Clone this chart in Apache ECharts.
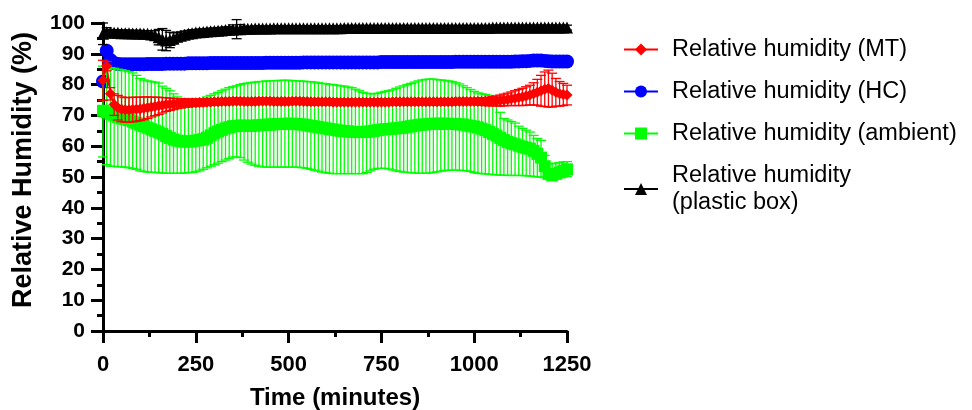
<!DOCTYPE html>
<html>
<head>
<meta charset="utf-8">
<script src="https://cdn.jsdelivr.net/npm/echarts@6/dist/echarts.min.js"></script>
<style>html,body{margin:0;padding:0;background:#fff}#c{width:972px;height:410px}</style>
</head>
<body>
<div id="c"></div>
<script>
// Sampling step of the measurements (minutes)
const STEP = 10;
const xTicks = [0, 250, 500, 750, 1000, 1250];
const yTicks = [0, 10, 20, 30, 40, 50, 60, 70, 80, 90, 100];

// Relative humidity (MT) - mean and SD
const mtMean = [
  81.4, 86, 77, 73.5, 72.5, 72, 71.8, 71.8, 71.9, 72,
  72.1, 72.3, 72.5, 72.7, 72.9, 73.1, 73.3, 73.5, 73.6, 73.7,
  73.8, 73.9, 74, 74, 74.1, 74.1, 74.2, 74.2, 74.3, 74.3,
  74.4, 74.4, 74.5, 74.5, 74.5, 74.6, 74.6, 74.6, 74.5, 74.5,
  74.5, 74.5, 74.6, 74.6, 74.6, 74.6, 74.5, 74.5, 74.5, 74.5,
  74.5, 74.6, 74.6, 74.6, 74.5, 74.5, 74.4, 74.4, 74.4, 74.4,
  74.4, 74.4, 74.3, 74.3, 74.3, 74.3, 74.3, 74.3, 74.3, 74.3,
  74.3, 74.3, 74.3, 74.3, 74.3, 74.3, 74.3, 74.3, 74.4, 74.4,
  74.4, 74.4, 74.4, 74.4, 74.4, 74.4, 74.4, 74.4, 74.4, 74.4,
  74.4, 74.4, 74.4, 74.4, 74.4, 74.5, 74.5, 74.5, 74.5, 74.5,
  74.5, 74.5, 74.5, 74.5, 74.5, 74.6, 74.7, 74.8, 75, 75.2,
  75.4, 75.6, 75.8, 76, 76.3, 76.6, 77, 77.5, 78, 78.5,
  78.7, 78.2, 77.5, 77, 76.8, 76.6
];
const mtSD = [
  6.5, 1.5, 2, 3.5, 4, 4, 4, 4, 4, 3.9,
  3.8, 3.7, 3.5, 3.2, 3, 2.8, 2.5, 2.2, 2, 1.8,
  1.6, 1.5, 1.4, 1.3, 1.2, 1.2, 1.1, 1.1, 1, 1,
  1, 1, 1, 1, 1, 1, 1, 1, 1, 1,
  1, 1, 1, 1, 1, 1, 1, 1, 1, 1,
  1, 1, 1, 1, 1, 1, 1, 1, 1, 1,
  1, 1, 1, 1, 1, 1, 1, 1, 1, 1,
  1, 1, 1, 1, 1, 1, 1, 1, 1, 1,
  1, 1, 1, 1, 1, 1, 1, 1, 1, 1,
  1, 1, 1, 1, 1, 1, 1, 1, 1, 1,
  1, 1.1, 1.2, 1.3, 1.4, 1.5, 1.6, 1.8, 1.9, 2,
  2.2, 2.4, 2.6, 2.8, 3, 3.2, 3.6, 4.2, 5, 5.6,
  6, 5.5, 4.5, 4, 3.6, 3.2
];

// Relative humidity (HC) - mean
const hcMean = [
  81, 91, 88, 87, 86.7, 86.6, 86.6, 86.6, 86.6, 86.6,
  86.6, 86.6, 86.7, 86.7, 86.7, 86.7, 86.7, 86.8, 86.8, 86.8,
  86.8, 86.8, 86.8, 86.9, 86.9, 86.9, 86.9, 86.9, 86.9, 87,
  87, 87, 87, 87, 87, 87, 87, 87, 87, 87,
  87, 87, 87, 87, 87.1, 87.1, 87.1, 87.1, 87.1, 87.1,
  87.1, 87.1, 87.1, 87.1, 87.2, 87.2, 87.2, 87.2, 87.2, 87.2,
  87.2, 87.2, 87.2, 87.2, 87.2, 87.2, 87.2, 87.2, 87.2, 87.2,
  87.2, 87.2, 87.2, 87.2, 87.2, 87.3, 87.3, 87.3, 87.3, 87.3,
  87.3, 87.3, 87.3, 87.3, 87.3, 87.3, 87.3, 87.3, 87.3, 87.3,
  87.3, 87.3, 87.3, 87.3, 87.3, 87.4, 87.4, 87.4, 87.4, 87.4,
  87.4, 87.4, 87.4, 87.4, 87.4, 87.4, 87.4, 87.4, 87.4, 87.4,
  87.4, 87.5, 87.5, 87.6, 87.6, 87.7, 87.8, 87.8, 87.8, 87.7,
  87.6, 87.5, 87.5, 87.5, 87.5, 87.5
];

// Relative humidity (ambient) - mean, upper and lower error bar ends
const ambMean = [
  71.5, 71, 70.5, 70, 69.5, 69, 68.8, 68.5, 68, 67.5,
  67, 66.5, 66, 65.5, 65, 64.5, 64, 63.3, 62.7, 62.2,
  61.8, 61.6, 61.5, 61.5, 61.6, 61.8, 62, 62.3, 62.8, 63.5,
  64.2, 64.8, 65.3, 65.8, 66.2, 66.5, 66.6, 66.7, 66.7, 66.6,
  66.6, 66.7, 66.8, 66.9, 67, 67, 67.1, 67.2, 67.2, 67.3,
  67.3, 67.3, 67.2, 67.1, 67, 66.8, 66.6, 66.4, 66.2, 66,
  65.8, 65.6, 65.4, 65.2, 65, 64.9, 64.8, 64.7, 64.6, 64.6,
  64.6, 64.7, 64.8, 65, 65.2, 65.4, 65.5, 65.6, 65.7, 65.8,
  65.9, 66.1, 66.3, 66.5, 66.7, 66.9, 67, 67.1, 67.2, 67.3,
  67.3, 67.3, 67.3, 67.3, 67.2, 67.2, 67.1, 67, 66.8, 66.6,
  66.4, 66.1, 65.7, 65.2, 64.6, 64, 63.4, 62.7, 62, 61.4,
  61, 60.6, 60.2, 59.8, 59.5, 59.2, 58.5, 57.5, 56.3, 53.5,
  51, 50.5, 51, 51.5, 52, 52.5
];
const ambHigh = [
  86, 86, 85.5, 85.3, 85, 84.8, 84.5, 84.2, 83.8, 83,
  82, 81.5, 81.2, 81, 80.8, 80.5, 79.5, 78.8, 78, 77,
  76, 75.5, 75.2, 75, 75, 75, 75.2, 75.5, 76, 76.5,
  77, 77.5, 78, 78.5, 79, 79.3, 79.6, 80, 80.3, 80.5,
  80.7, 80.8, 81, 81, 81.2, 81.2, 81.3, 81.3, 81.4, 81.4,
  81.4, 81.3, 81.2, 81.2, 81.1, 81, 80.9, 80.8, 80.6, 80.4,
  80.3, 80.1, 80, 79.8, 79.6, 79.5, 79.2, 79, 78.5, 78,
  77.5, 77.2, 77, 77, 77.2, 77.5, 77.8, 78, 78.3, 78.8,
  79.2, 79.6, 80, 80.4, 80.8, 81.2, 81.5, 81.7, 81.8, 81.8,
  81.6, 81.5, 81.4, 81.2, 81, 80.6, 80.2, 79.6, 79, 78.4,
  77.8, 77.3, 77, 76.8, 76.5, 76.2, 74, 71, 69, 68.5,
  68, 67.5, 66.5, 65.8, 65.2, 64.6, 63.5, 62.5, 61.9, 57,
  54.3, 54.3, 54.5, 54.7, 54.9, 55
];
const ambLow = [
  56.5, 54, 53.5, 53.5, 53.3, 53.3, 53.2, 53, 52.8, 52.5,
  52, 51.8, 51.6, 51.5, 51.5, 51.4, 51.3, 51.2, 51.2, 51.2,
  51.2, 51.2, 51.3, 51.4, 51.5, 51.7, 52, 52.5, 53, 53.5,
  54, 54.5, 55, 55.5, 56, 56.5, 56.5, 56.3, 55.5, 54.8,
  54.2, 53.8, 53.5, 53.3, 53.2, 53.2, 53.2, 53.2, 53.2, 53.2,
  53.2, 53.2, 53.2, 53.1, 53, 52.8, 52.5, 52.2, 51.9, 51.6,
  51.4, 51.2, 51.1, 51.1, 51.1, 51.1, 51.1, 51.1, 51.1, 51.1,
  51.1, 51.5, 52, 52.5, 52.8, 52.8, 52.8, 52.6, 52.3, 52,
  51.8, 51.6, 51.5, 51.4, 51.3, 51.2, 51.2, 51.2, 51.3, 51.5,
  51.7, 51.9, 52.1, 52.2, 52.2, 52.2, 52.2, 52.1, 52, 51.8,
  51.5, 51.2, 51.1, 51, 50.9, 50.8, 50.7, 50.6, 50.6, 50.5,
  50.5, 50.5, 50.5, 50.5, 50.4, 50.3, 50.2, 50, 50, 49.8,
  49.5, 49.5, 49.6, 49.8, 50, 50.2
];

// Relative humidity (plastic box) - mean and SD
const boxMean = [
  96.5, 97, 96.9, 96.8, 96.8, 96.7, 96.7, 96.7, 96.6, 96.6,
  96.6, 96.5, 96.5, 96.3, 96, 95.4, 94.7, 94.3, 94.5, 95,
  95.5, 95.9, 96.2, 96.5, 96.7, 96.9, 97, 97.1, 97.2, 97.3,
  97.4, 97.5, 97.6, 97.7, 97.8, 97.9, 98, 98, 98.1, 98.1,
  98.1, 98.2, 98.2, 98.2, 98.2, 98.2, 98.3, 98.3, 98.3, 98.3,
  98.3, 98.3, 98.3, 98.3, 98.3, 98.3, 98.3, 98.3, 98.3, 98.3,
  98.3, 98.3, 98.3, 98.3, 98.3, 98.4, 98.4, 98.4, 98.4, 98.4,
  98.4, 98.4, 98.4, 98.4, 98.4, 98.4, 98.4, 98.4, 98.4, 98.4,
  98.4, 98.4, 98.4, 98.4, 98.4, 98.4, 98.4, 98.4, 98.4, 98.4,
  98.4, 98.4, 98.4, 98.4, 98.4, 98.4, 98.4, 98.4, 98.4, 98.4,
  98.4, 98.4, 98.4, 98.4, 98.4, 98.5, 98.5, 98.5, 98.5, 98.5,
  98.5, 98.5, 98.5, 98.5, 98.5, 98.5, 98.5, 98.5, 98.5, 98.5,
  98.5, 98.5, 98.5, 98.5, 98.5, 98.5
];
const boxSD = [
  3.5, 1.5, 1, 1, 1, 1, 1, 1, 1, 1,
  1, 1, 1, 1.2, 1.5, 2.5, 3.5, 3.3, 2.5, 1.8,
  1.5, 1.2, 1.2, 1.1, 1.1, 1, 1, 1, 1, 1,
  1, 1, 1, 1, 1, 1.5, 3.1, 1.5, 0.8, 0.8,
  0.8, 0.8, 0.8, 0.8, 0.8, 0.8, 0.8, 0.8, 0.8, 0.8,
  0.8, 0.8, 0.8, 0.8, 0.8, 0.8, 0.8, 0.8, 0.8, 0.8,
  0.8, 0.8, 0.8, 0.8, 0.8, 0.8, 0.8, 0.8, 0.8, 0.8,
  0.8, 0.8, 0.8, 0.8, 0.8, 0.8, 0.8, 0.8, 0.8, 0.8,
  0.8, 0.8, 0.8, 0.8, 0.8, 0.8, 0.8, 0.8, 0.8, 0.8,
  0.8, 0.8, 0.8, 0.8, 0.8, 0.8, 0.8, 0.8, 0.8, 0.8,
  0.8, 0.8, 0.8, 0.8, 0.8, 0.8, 0.8, 0.8, 0.8, 0.8,
  0.8, 0.8, 0.8, 0.8, 0.8, 0.8, 0.8, 0.8, 0.8, 0.8,
  0.8, 0.8, 0.8, 0.8, 0.8, 0.8
];

const names = [
  'Relative humidity (MT)',
  'Relative humidity (HC)',
  'Relative humidity (ambient)',
  'Relative humidity\n(plastic box)'
];

const FONT = '"Liberation Sans", Arial, Helvetica, sans-serif';
const times = mtMean.map((_, i) => i * STEP);
const pts = (arr) => arr.map((v, i) => [times[i], v]);
const sdBars = (m, sd) => m.map((v, i) => [times[i], v - sd[i], v + sd[i]]);
const rangeBars = (lo, hi) => lo.map((v, i) => [times[i], v, hi[i]]);

function errRender(color, cap, lw) {
  return function (params, api) {
    const x = api.value(0);
    const a = api.coord([x, api.value(1)]);
    const b = api.coord([x, api.value(2)]);
    const st = { stroke: color, lineWidth: lw };
    return {
      type: 'group',
      children: [
        { type: 'line', shape: { x1: a[0], y1: a[1], x2: b[0], y2: b[1] }, style: st },
        { type: 'line', shape: { x1: a[0] - cap, y1: a[1], x2: a[0] + cap, y2: a[1] }, style: st },
        { type: 'line', shape: { x1: b[0] - cap, y1: b[1], x2: b[0] + cap, y2: b[1] }, style: st }
      ]
    };
  };
}

function errSeries(id, data, color, z) {
  return {
    type: 'custom', name: id, data: data, z: z, silent: true,
    encode: { x: 0, y: [1, 2] },
    renderItem: errRender(color, 5, 1.3),
    clip: false
  };
}

function lineSeries(name, data, color, symbol, size, z) {
  return {
    type: 'line', name: name, data: data, z: z,
    symbol: symbol, symbolSize: size, showSymbol: true,
    lineStyle: { color: color, width: 1.8 },
    itemStyle: { color: color, borderWidth: 0 },
    clip: false
  };
}

const chart = echarts.init(document.getElementById('c'), null, { renderer: 'canvas' });
chart.setOption({
  animation: false,
  backgroundColor: '#fff',
  textStyle: { fontFamily: FONT },
  grid: { left: 103, right: 405, top: 23, bottom: 79, containLabel: false, outerBoundsMode: 'none' },
  legend: {
    orient: 'vertical', left: 618, top: 31,
    itemWidth: 34, itemHeight: 15, itemGap: 15,
    data: names,
    textStyle: { fontFamily: FONT, fontSize: 23.5, lineHeight: 27, color: '#000', padding: [0, 0, 0, 9] }
  },
  xAxis: {
    type: 'value', min: 0, max: 1250, interval: 250,
    name: 'Time (minutes)', nameLocation: 'middle', nameGap: 55,
    nameTextStyle: { fontFamily: FONT, fontSize: 24, fontWeight: 'bold', color: '#000' },
    axisLine: { show: true, onZero: false, lineStyle: { color: '#000', width: 3 } },
    axisTick: { show: true, length: 12, lineStyle: { color: '#000', width: 3 } },
    minorTick: { show: true, splitNumber: 2, length: 6, lineStyle: { color: '#000', width: 3 } },
    axisLabel: { margin: 23, fontFamily: FONT, fontSize: 22, fontWeight: 'bold', color: '#000',
      formatter: (v) => xTicks.includes(v) ? String(v) : '' },
    splitLine: { show: false }
  },
  yAxis: {
    type: 'value', min: 0, max: 100, interval: 10,
    name: 'Relative Humidity (%)', nameLocation: 'middle', nameGap: 66, nameRotate: 90,
    nameTextStyle: { fontFamily: FONT, fontSize: 27, fontWeight: 'bold', color: '#000', padding: [0, 0, 0, 14] },
    axisLine: { show: true, onZero: false, lineStyle: { color: '#000', width: 3 } },
    axisTick: { show: true, length: 12, lineStyle: { color: '#000', width: 3 } },
    minorTick: { show: true, splitNumber: 2, length: 6, lineStyle: { color: '#000', width: 3 } },
    axisLabel: { margin: 18, fontFamily: FONT, fontSize: 21, fontWeight: 'bold', color: '#000',
      formatter: (v) => yTicks.includes(v) ? String(v) : '' },
    splitLine: { show: false }
  },
  series: [
    lineSeries(names[1], pts(hcMean), '#0000FF', 'circle', 14, 2),
    errSeries('boxErr', sdBars(boxMean, boxSD), '#000000', 3),
    lineSeries(names[3], pts(boxMean), '#000000', 'triangle', 12, 3),
    errSeries('ambErr', rangeBars(ambLow, ambHigh), '#00FF00', 4),
    lineSeries(names[2], pts(ambMean), '#00FF00', 'rect', 12, 5),
    errSeries('mtErr', sdBars(mtMean, mtSD), '#FF0000', 6),
    lineSeries(names[0], pts(mtMean), '#FF0000', 'diamond', 11, 7)
  ]
});
</script>
</body>
</html>
